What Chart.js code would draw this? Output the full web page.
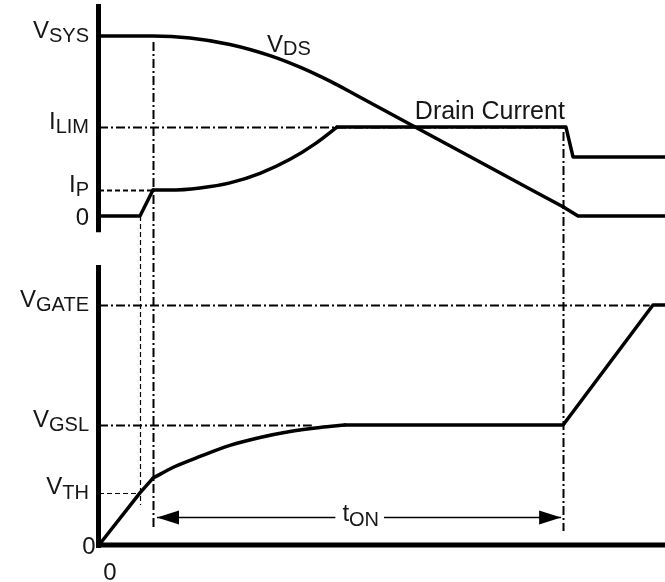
<!DOCTYPE html>
<html>
<head>
<meta charset="utf-8">
<title>Turn-on waveforms: VDS, drain current and gate voltage</title>
<script src="https://cdn.jsdelivr.net/npm/chart.js@4/dist/chart.umd.min.js"></script>
<style>
  html, body { margin: 0; padding: 0; background: #fff; }
  canvas { display: block; }
</style>
</head>
<body>
<canvas id="wave" width="665" height="582"></canvas>
<script>
// Time runs 0..100 (arbitrary units). Upper panel levels are scaled so VSYS = 10,
// lower panel levels so VGATE = 10.

// Reference levels
const V_SYS = 10, I_LIM = 4.94, I_P = 1.44;
const V_GATE = 10, V_GSL = 5.0, V_TH = 2.17;

// Key instants
const T_TH = 7.24;   // gate passes VTH, drain current starts to flow
const T_ON = 9.54;   // drain current reaches IP, start of tON
const T_OFF = 82.0;  // end of tON

// VDS: flat at VSYS, then falls towards zero
const vdsCurveT = [0, T_ON, 16.08, 23.14, 30.21, 35.51, 40.81, 45.23, 54.95, 67.31, 81.98];
const vdsCurveV = [V_SYS, V_SYS, 9.89, 9.53, 8.91, 8.27, 7.49, 6.75, 5.10, 3.0, 0.51];
const vdsTailT = [81.98, 84.63, 100];
const vdsTailV = [0.51, 0, 0];

// Drain current: step to IP, rise to ILIM, hold, then drop
const idHeadT = [0, T_TH, T_ON];
const idHeadV = [0, 0, I_P];
const idCurveT = [T_ON, 12.54, 17.84, 23.14, 28.45, 33.75, 38.16, 42.05];
const idCurveV = [I_P, I_P, 1.56, 1.84, 2.37, 3.15, 4.01, I_LIM];
const idTailT = [42.05, 82.5, 83.75, 100];
const idTailV = [I_LIM, I_LIM, 3.28, 3.28];

// Gate voltage: ramp through VTH, settle to VGSL, then ramp to VGATE
const vgHeadT = [0, T_TH, T_ON];
const vgHeadV = [0, V_TH, 2.79];
const vgCurveT = [T_ON, 13.43, 17.84, 23.14, 28.45, 33.75, 39.05, 43.46];
const vgCurveV = [2.79, 3.27, 3.69, 4.15, 4.48, 4.73, 4.90, V_GSL];
const vgTailT = [43.46, T_OFF, 97.88, 100];
const vgTailV = [V_GSL, V_GSL, V_GATE, V_GATE];

// Layout of the two stacked panels inside one plot area
const W = 665, H = 582;
const PLOT_LEFT = 99;
function bandRange(zeroPx, fullPx, fullValue) {
  const k = (zeroPx - fullPx) / fullValue; // pixels per unit
  return { min: (zeroPx - H) / k, max: zeroPx / k };
}
const topRange = bandRange(216, 36, V_SYS);
const botRange = bandRange(545, 305, V_GATE);

const INK = '#000';
const TEXT = '#161616';
const FAMILY = "'Liberation Sans', Arial, Helvetica, sans-serif";
const MAIN_FONT = '24px ' + FAMILY;
const SUB_FONT = '20px ' + FAMILY;
const DASH_DOT = [9, 3, 2, 3];
const DASH = [5, 3];

function trace(label, ts, vs, axis, smooth) {
  return {
    label,
    data: ts.map((t, i) => ({ x: t, y: vs[i] })),
    yAxisID: axis,
    borderColor: INK,
    borderWidth: 3.5,
    pointRadius: 0,
    fill: false,
    tension: 0,
    cubicInterpolationMode: smooth ? 'monotone' : 'default',
    borderJoinStyle: 'round',
    borderCapStyle: 'round'
  };
}

function subText(ctx, main, sub, x, y, subDrop) {
  ctx.font = MAIN_FONT;
  ctx.fillText(main, x, y);
  const wm = ctx.measureText(main).width;
  ctx.font = SUB_FONT;
  ctx.fillText(sub, x + wm, y + subDrop);
  return wm + ctx.measureText(sub).width;
}
function subWidth(ctx, main, sub) {
  ctx.font = MAIN_FONT;
  const wm = ctx.measureText(main).width;
  ctx.font = SUB_FONT;
  return wm + ctx.measureText(sub).width;
}

// Guide lines, axis rules, tON arrow and all labels
const annotate = {
  id: 'annotate',
  beforeDatasetsDraw(chart) {
    const ctx = chart.ctx, x = chart.scales.x, yt = chart.scales.yTop, yb = chart.scales.yBot;
    ctx.save();
    ctx.strokeStyle = INK;
    const h = (ys, v, t0, t1, dash, w) => {
      ctx.setLineDash(dash); ctx.lineWidth = w;
      const py = Math.round(ys.getPixelForValue(v)) + 0.5;
      ctx.beginPath(); ctx.moveTo(x.getPixelForValue(t0), py); ctx.lineTo(x.getPixelForValue(t1), py); ctx.stroke();
    };
    const vline = (t, vTop, vBot, dash, w) => {
      ctx.setLineDash(dash); ctx.lineWidth = w;
      const px = Math.round(x.getPixelForValue(t)) + 0.5;
      ctx.beginPath(); ctx.moveTo(px, yt.getPixelForValue(vTop)); ctx.lineTo(px, yb.getPixelForValue(vBot)); ctx.stroke();
    };
    h(yt, I_LIM, 0, 82.5, DASH_DOT, 2);
    h(yt, I_P, 0, T_ON, DASH, 2);
    h(yb, V_GATE, 0, 97.3, DASH_DOT, 2);
    h(yb, V_GSL, 0, 37.6, DASH_DOT, 2);
    h(yb, V_TH, 0, T_TH, DASH, 1.2);
    vline(T_ON, 9.67, 0.63, DASH_DOT, 2);
    ctx.setLineDash(DASH); ctx.lineWidth = 1.2;
    const pxTh = Math.round(x.getPixelForValue(T_TH)) + 0.5;
    ctx.beginPath(); ctx.moveTo(pxTh, yt.getPixelForValue(0)); ctx.lineTo(pxTh, yb.getPixelForValue(1.67)); ctx.stroke();
    vline(T_OFF, 4.67, 0.58, DASH_DOT, 2);
    ctx.restore();
  },
  afterDatasetsDraw(chart) {
    const ctx = chart.ctx, x = chart.scales.x, yt = chart.scales.yTop, yb = chart.scales.yBot;
    ctx.save();
    // axis rules
    ctx.strokeStyle = INK; ctx.lineWidth = 5; ctx.lineCap = 'butt'; ctx.setLineDash([]);
    const ax = x.getPixelForValue(0) - 0.5;
    ctx.beginPath(); ctx.moveTo(ax, yt.getPixelForValue(11.78)); ctx.lineTo(ax, yt.getPixelForValue(-0.9)); ctx.stroke();
    ctx.beginPath(); ctx.moveTo(ax, yb.getPixelForValue(11.67)); ctx.lineTo(ax, yb.getPixelForValue(-0.12)); ctx.stroke();
    const ay = yb.getPixelForValue(0);
    ctx.beginPath(); ctx.moveTo(ax - 2.5, ay); ctx.lineTo(W, ay); ctx.stroke();

    // tON dimension arrow
    const arY = Math.round(yb.getPixelForValue(1.17)) + 0.5;
    const xa = x.getPixelForValue(T_ON) + 4, xb = x.getPixelForValue(T_OFF) - 2;
    ctx.fillStyle = TEXT;
    ctx.textBaseline = 'alphabetic';
    const labelX = x.getPixelForValue(43.0);
    const tw = subWidth(ctx, 't', 'ON');
    subText(ctx, 't', 'ON', labelX, arY + 3, 5);
    ctx.lineWidth = 1.5;
    ctx.beginPath();
    ctx.moveTo(xa, arY); ctx.lineTo(labelX - 7, arY);
    ctx.moveTo(labelX + tw + 5, arY); ctx.lineTo(xb, arY);
    ctx.stroke();
    ctx.fillStyle = INK;
    ctx.beginPath(); ctx.moveTo(xa, arY); ctx.lineTo(xa + 22, arY - 7); ctx.lineTo(xa + 22, arY + 7); ctx.closePath(); ctx.fill();
    ctx.beginPath(); ctx.moveTo(xb, arY); ctx.lineTo(xb - 22, arY - 7); ctx.lineTo(xb - 22, arY + 7); ctx.closePath(); ctx.fill();

    // level labels on the left
    ctx.fillStyle = TEXT;
    const RIGHT = 89;
    const level = (ys, v, main, sub) => {
      const py = ys.getPixelForValue(v);
      const w = subWidth(ctx, main, sub);
      subText(ctx, main, sub, RIGHT - w, py + 1.5, 4.5);
    };
    level(yt, V_SYS, 'V', 'SYS');
    level(yt, I_LIM, 'I', 'LIM');
    level(yt, I_P, 'I', 'P');
    level(yb, V_GATE, 'V', 'GATE');
    level(yb, V_GSL, 'V', 'GSL');
    level(yb, V_TH, 'V', 'TH');
    ctx.font = MAIN_FONT;
    ctx.textAlign = 'right';
    ctx.fillText('0', RIGHT, yt.getPixelForValue(0) + 8.5);
    ctx.fillText('0', 95.5, yb.getPixelForValue(0) + 8.5);
    ctx.textAlign = 'center';
    ctx.fillText('0', x.getPixelForValue(0) + 11, H - 2);
    ctx.textAlign = 'left';

    // trace labels
    subText(ctx, 'V', 'DS', x.getPixelForValue(29.7), yt.getPixelForValue(9.11), 2.5);
    ctx.font = '25px ' + FAMILY;
    ctx.fillText('Drain Current', x.getPixelForValue(55.8), yt.getPixelForValue(5.39));
    ctx.restore();
  }
};

new Chart(document.getElementById('wave'), {
  type: 'line',
  data: {
    datasets: [
      trace('VDS', vdsCurveT, vdsCurveV, 'yTop', true),
      trace('VDS', vdsTailT, vdsTailV, 'yTop', false),
      trace('Drain Current', idHeadT, idHeadV, 'yTop', false),
      trace('Drain Current', idCurveT, idCurveV, 'yTop', true),
      trace('Drain Current', idTailT, idTailV, 'yTop', false),
      trace('VGS', vgHeadT, vgHeadV, 'yBot', false),
      trace('VGS', vgCurveT, vgCurveV, 'yBot', true),
      trace('VGS', vgTailT, vgTailV, 'yBot', false)
    ]
  },
  options: {
    responsive: false,
    devicePixelRatio: 1,
    animation: false,
    layout: { padding: { left: PLOT_LEFT, right: 0, top: 0, bottom: 0 } },
    scales: {
      x: { type: 'linear', min: 0, max: 100, display: false },
      yTop: { type: 'linear', position: 'left', min: topRange.min, max: topRange.max, display: false },
      yBot: { type: 'linear', position: 'left', min: botRange.min, max: botRange.max, display: false }
    },
    plugins: { legend: { display: false }, tooltip: { enabled: false } },
    events: []
  },
  plugins: [annotate]
});
</script>
</body>
</html>
